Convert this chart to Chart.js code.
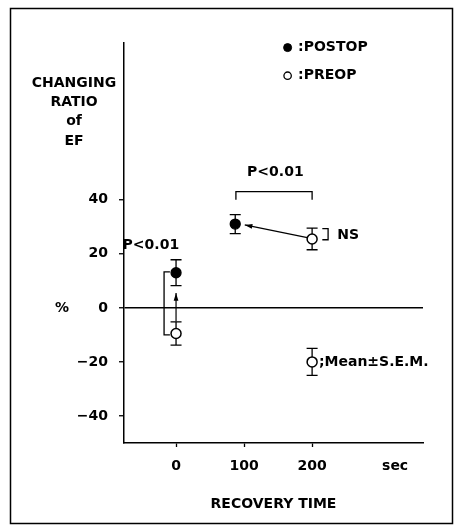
<!DOCTYPE html>
<html>
<head>
<meta charset="utf-8">
<script src="https://cdn.jsdelivr.net/npm/chart.js@4.4.1/dist/chart.umd.min.js"></script>
<style>
  html, body { margin: 0; padding: 0; background: #fff; }
  #wrap { width: 456px; height: 526px; }
</style>
</head>
<body>
<div id="wrap"><canvas id="c"></canvas></div>
<script>
const FONT = '"DejaVu Sans", sans-serif';

// Recovery time (sec) vs changing ratio of EF (%), mean and S.E.M.
const postopTime = [0, 87];
const postopMean = [13, 31];
const postopSem  = [4.8, 3.5];

const preopTime = [0, 200];
const preopMean = [-9.5, 25.5];
const preopSem  = [4.3, 4];

// key sample ";Mean±S.E.M."
const keyTime = [200];
const keyMean = [-20];
const keySem  = [5];

// legend markers
const legendTime = [164];
const legendPostop = [96.3];
const legendPreop  = [85.9];

const yTicks = [-40, -20, 0, 20, 40];
const xTicks = [0, 100, 200, 322];
const xTickLabels = ['0', '100', '200', 'sec'];

// significance brackets (data units)
const bracketLeft = [[-9, 13.3], [-17.6, 13.3], [-17.6, -10], [-9, -10]];
const bracketTop  = [[88, 40], [88, 43], [200, 43], [200, 40]];
const bracketNS   = [[215, 29.3], [223.5, 29.3], [223.5, 25.2], [215, 25.2]];

// arrows: from -> to
const arrows = [
    [[193, 26], [101, 30.7]],
    [[0, -5], [0, 5.5]]
];

// text notes in data units
const notes = [
    { text: 'P<0.01', x: -37, y: 23.3, align: 'center' },
    { text: 'P<0.01', x: 146, y: 50, align: 'center' },
    { text: 'NS', x: 237, y: 26.7, align: 'left' },
    { text: ';Mean±S.E.M.', x: 210, y: -20, align: 'left' },
    { text: ':POSTOP', x: 179.4, y: 96.3, align: 'left' },
    { text: ':PREOP', x: 179.4, y: 85.9, align: 'left' }
];

const yTitleLines = ['CHANGING', 'RATIO', 'of', 'EF'];

const toPts = (xs, ys) => xs.map((x, i) => ({ x: x, y: ys[i] }));
const pairPts = arr => arr.map(p => ({ x: p[0], y: p[1] }));

function bracketSet(arr) {
    return {
        type: 'line',
        data: pairPts(arr),
        borderColor: '#000',
        borderWidth: 1.3,
        pointRadius: 0,
        fill: false,
        showLine: true,
        clip: false
    };
}

// error bars, drawn under the markers
const errorBars = {
    id: 'errorBars',
    beforeDatasetsDraw(chart) {
        const { ctx, scales: { x, y } } = chart;
        const groups = [
            [postopTime, postopMean, postopSem],
            [preopTime, preopMean, preopSem],
            [keyTime, keyMean, keySem]
        ];
        ctx.save();
        ctx.strokeStyle = '#000';
        ctx.lineWidth = 1.3;
        groups.forEach(([ts, ms, ss]) => {
            ts.forEach((t, i) => {
                const px = x.getPixelForValue(t);
                const top = y.getPixelForValue(ms[i] + ss[i]);
                const bot = y.getPixelForValue(ms[i] - ss[i]);
                ctx.beginPath();
                ctx.moveTo(px, top); ctx.lineTo(px, bot);
                ctx.moveTo(px - 5.5, top); ctx.lineTo(px + 5.5, top);
                ctx.moveTo(px - 5.5, bot); ctx.lineTo(px + 5.5, bot);
                ctx.stroke();
            });
        });
        ctx.restore();
    }
};

const annotations = {
    id: 'annotations',
    afterDatasetsDraw(chart) {
        const { ctx, scales: { x, y } } = chart;
        ctx.save();
        // arrows
        ctx.strokeStyle = '#000';
        ctx.fillStyle = '#000';
        ctx.lineWidth = 1.2;
        arrows.forEach(([from, to]) => {
            const x1 = x.getPixelForValue(from[0]), y1 = y.getPixelForValue(from[1]);
            const x2 = x.getPixelForValue(to[0]), y2 = y.getPixelForValue(to[1]);
            const a = Math.atan2(y2 - y1, x2 - x1);
            ctx.beginPath();
            ctx.moveTo(x1, y1); ctx.lineTo(x2, y2);
            ctx.stroke();
            ctx.beginPath();
            ctx.moveTo(x2, y2);
            ctx.lineTo(x2 - 8 * Math.cos(a - 0.3), y2 - 8 * Math.sin(a - 0.3));
            ctx.lineTo(x2 - 8 * Math.cos(a + 0.3), y2 - 8 * Math.sin(a + 0.3));
            ctx.closePath();
            ctx.fill();
        });
        // notes
        ctx.font = 'bold 14px ' + FONT;
        ctx.textBaseline = 'middle';
        notes.forEach(n => {
            ctx.textAlign = n.align;
            ctx.fillText(n.text, x.getPixelForValue(n.x), y.getPixelForValue(n.y));
        });
        // y title, horizontal lines
        ctx.textAlign = 'center';
        yTitleLines.forEach((s, i) => {
            ctx.fillText(s, 74, 83 + i * 19.3);
        });
        ctx.fillText('%', 62, y.getPixelForValue(0));
        ctx.restore();
    }
};

const frame = {
    id: 'frame',
    beforeDraw(chart) {
        const { ctx } = chart;
        ctx.save();
        ctx.fillStyle = '#fff';
        ctx.fillRect(0, 0, chart.width, chart.height);
        ctx.strokeStyle = '#000';
        ctx.lineWidth = 1.5;
        ctx.strokeRect(10.5, 8.5, 442, 515);
        ctx.restore();
    }
};

new Chart(document.getElementById('c'), {
    type: 'scatter',
    data: {
        datasets: [
            {
                label: 'POSTOP',
                data: toPts(postopTime, postopMean),
                backgroundColor: '#000',
                borderColor: '#000',
                borderWidth: 1.3,
                pointRadius: 5
            },
            {
                label: 'PREOP',
                data: toPts(preopTime, preopMean),
                backgroundColor: '#fff',
                borderColor: '#000',
                borderWidth: 1.5,
                pointRadius: 5
            },
            {
                label: 'key',
                data: toPts(keyTime, keyMean),
                backgroundColor: '#fff',
                borderColor: '#000',
                borderWidth: 1.5,
                pointRadius: 5
            },
            {
                label: 'legend postop',
                data: toPts(legendTime, legendPostop),
                backgroundColor: '#000',
                borderColor: '#000',
                borderWidth: 1,
                pointRadius: 4,
                clip: false
            },
            {
                label: 'legend preop',
                data: toPts(legendTime, legendPreop),
                backgroundColor: '#fff',
                borderColor: '#000',
                borderWidth: 1.3,
                pointRadius: 3.7,
                clip: false
            },
            bracketSet(bracketLeft),
            bracketSet(bracketTop),
            bracketSet(bracketNS)
        ]
    },
    options: {
        responsive: true,
        maintainAspectRatio: false,
        animation: false,
        events: [],
        layout: { padding: { left: 10, right: 33, top: 43, bottom: 8 } },
        plugins: {
            legend: { display: false },
            tooltip: { enabled: false }
        },
        scales: {
            x: {
                type: 'linear',
                min: -76.5,
                max: 363,
                afterBuildTicks(scale) {
                    scale.ticks = xTicks.map(v => ({ value: v }));
                },
                afterFit(scale) { scale.height = 75; },
                ticks: {
                    color: '#000',
                    font: { family: FONT, size: 14, weight: 'bold' },
                    padding: 11,
                    maxRotation: 0,
                    autoSkip: false,
                    callback: (v) => xTickLabels[xTicks.indexOf(v)]
                },
                grid: {
                    drawOnChartArea: false,
                    tickLength: 4,
                    tickWidth: 1.3,
                    tickColor: ctx => (ctx.tick && ctx.tick.value === 322) ? 'rgba(0,0,0,0)' : '#000'
                },
                border: { color: '#000', width: 1.5 },
                title: {
                    display: true,
                    text: 'RECOVERY TIME',
                    color: '#000',
                    font: { family: FONT, size: 14, weight: 'bold' },
                    padding: { top: 0, bottom: 5 }
                }
            },
            y: {
                min: -50,
                max: 98,
                afterBuildTicks(scale) {
                    scale.ticks = yTicks.map(v => ({ value: v }));
                },
                afterFit(scale) { scale.width = 114; },
                ticks: {
                    color: '#000',
                    font: { family: FONT, size: 14, weight: 'bold' },
                    padding: 11,
                    callback: v => v < 0 ? '\u2212' + Math.abs(v) : String(v)
                },
                grid: {
                    drawOnChartArea: true,
                    color: ctx => (ctx.tick && ctx.tick.value === 0) ? '#000' : 'rgba(0,0,0,0)',
                    lineWidth: 1.5,
                    tickLength: 5,
                    tickWidth: 1.3,
                    tickColor: '#000'
                },
                border: { color: '#000', width: 1.5 }
            }
        }
    },
    plugins: [frame, errorBars, annotations]
});
</script>
</body>
</html>
